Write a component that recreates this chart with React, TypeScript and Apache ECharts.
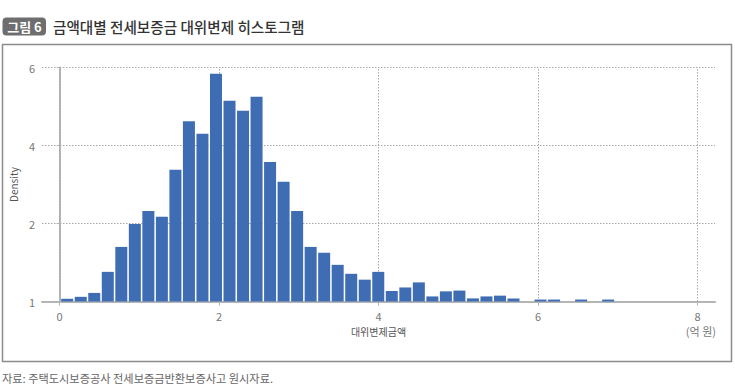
import React, { useEffect, useRef } from "react";
import * as echarts from "echarts";

// Histogram bins (대위변제금액, 억 원)
const binLeft = 0.0114;
const binWidth = 0.1696;
const densities = [
  0.07, 0.12, 0.22, 0.76, 1.4, 1.99, 2.32, 2.17, 3.38, 4.62, 4.3, 5.84, 5.15, 4.89, 5.25, 3.58, 3.07,
  2.32, 1.4, 1.25, 0.94, 0.71, 0.56, 0.76, 0.27, 0.36, 0.49, 0.13, 0.26, 0.28, 0.08, 0.13, 0.15, 0.08,
  0, 0.05, 0.05, 0, 0.05, 0, 0.05,
];
const xTickValues = [0, 2, 4, 6, 8];
const yTickValues = [0, 2, 4, 6];
const yTickLabels = ["1", "2", "4", "6"];

const badgeText = "그림 6";
const titleText = "금액대별 전세보증금 대위변제 히스토그램";
const xAxisName = "대위변제금액";
const unitText = "(억 원)";
const yAxisName = "Density";
const sourceText = "자료: 주택도시보증공사 전세보증금반환보증사고 원시자료.";

const FONT = "'Noto Sans CJK KR', 'Noto Sans', sans-serif";

export default function App() {
  const ref = useRef<HTMLDivElement>(null);
  useEffect(() => {
    document.body.style.margin = "0";
    const chart = echarts.init(ref.current!, null, { renderer: "svg" });
    const data = densities.map((d, i) => [binLeft + binWidth * (i + 0.5), d]);
    const gridLine = { color: "#a8a8a8", type: [1.5, 1.5] as any, width: 1 };
    chart.setOption({
      animation: false,
      textStyle: { fontFamily: FONT },
      grid: { left: 40, right: 20, top: 67.5, bottom: 90.5, containLabel: false },
      xAxis: {
        type: "value",
        min: -0.22,
        max: 8.22,
        name: xAxisName,
        nameLocation: "middle",
        nameGap: 25,
        nameTextStyle: { color: "#555", fontSize: 10, fontFamily: FONT },
        axisLine: { show: true, lineStyle: { color: "#b5b5b5", width: 2 } },
        axisTick: { show: true, customValues: xTickValues, length: 4, lineStyle: { color: "#b5b5b5" } },
        axisLabel: { customValues: xTickValues, color: "#777", fontSize: 11, margin: 9, fontFamily: FONT },
        splitLine: { show: false },
      },
      yAxis: {
        type: "value",
        min: 0,
        max: 6,
        interval: 2,
        name: yAxisName,
        nameLocation: "middle",
        nameGap: 18,
        nameRotate: 90,
        nameTextStyle: { color: "#555", fontSize: 10, fontFamily: FONT },
        axisLine: { show: true, lineStyle: { color: "#b5b5b5", width: 2 } },
        axisTick: { show: true, length: 3, lineStyle: { color: "#b5b5b5" } },
        axisLabel: {
          color: "#777",
          fontSize: 11,
          margin: 7,
          fontFamily: FONT,
          formatter: (v: number) => {
            const idx = yTickValues.indexOf(v);
            return idx >= 0 ? yTickLabels[idx] : "";
          },
        },
        splitLine: { show: true, lineStyle: gridLine },
      },
      series: [
        {
          type: "bar",
          data,
          barWidth: 12,
          itemStyle: { color: "#3e6db4" },
          z: 3,
          markLine: {
            silent: true,
            symbol: "none",
            label: { show: false },
            lineStyle: gridLine,
            z: 1,
            data: xTickValues.map((v) => ({ xAxis: v })),
          },
        },
      ],
      graphic: [
        {
          type: "rect",
          shape: { x: 2.5, y: 44.5, width: 729, height: 317 },
          style: { fill: "none", stroke: "#8c8c8c", lineWidth: 1.5 },
          silent: true,
        },
        {
          type: "rect",
          shape: { x: 2.5, y: 17.5, width: 43.5, height: 18, r: 4 },
          style: { fill: "#6e6e6e" },
        },
        {
          type: "text",
          x: 24.5,
          y: 26.5,
          style: {
            text: badgeText,
            fill: "#fff",
            font: `bold 13px ${FONT}`,
            align: "center",
            verticalAlign: "middle",
          },
        },
        {
          type: "text",
          x: 53,
          y: 26.5,
          style: {
            text: titleText,
            fill: "#333",
            font: `500 14.6px ${FONT}`,
            align: "left",
            verticalAlign: "middle",
          },
        },
        {
          type: "text",
          x: 716,
          y: 331,
          style: {
            text: unitText,
            fill: "#777",
            font: `11px ${FONT}`,
            align: "right",
            verticalAlign: "middle",
          },
        },
        {
          type: "text",
          x: 2,
          y: 378,
          style: {
            text: sourceText,
            fill: "#666",
            font: `11.2px ${FONT}`,
            align: "left",
            verticalAlign: "middle",
          },
        },
      ],
    });
    return () => chart.dispose();
  }, []);
  return <div ref={ref} style={{ width: 735, height: 392 }} />;
}
